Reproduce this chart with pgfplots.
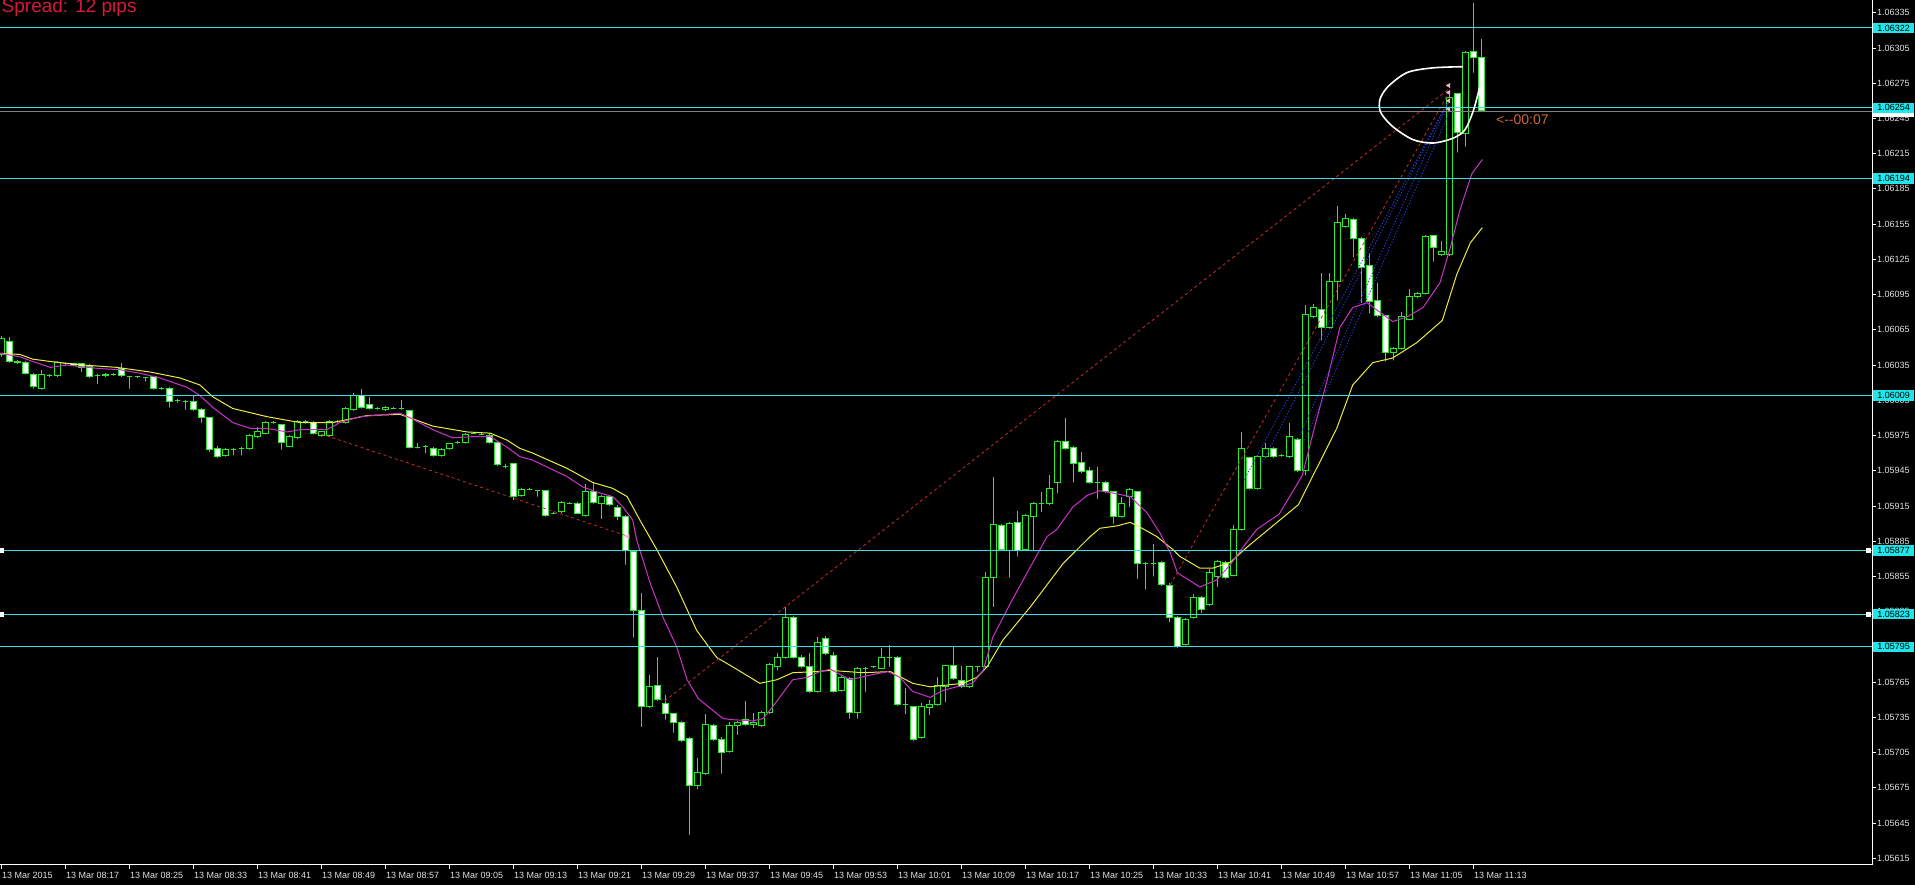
\documentclass[border=0pt]{standalone}
\usepackage{fontspec}
\setmainfont{Liberation Sans}
\usepackage{pgfplots}
\usepackage{pgfplotstable}
\pgfplotsset{compat=1.18}

\definecolor{cgreen}{RGB}{45,230,45}
\definecolor{cyell}{RGB}{235,235,70}
\definecolor{cmag}{RGB}{205,50,205}
\definecolor{ccyan}{RGB}{60,220,225}
\definecolor{cbox}{RGB}{30,230,235}
\definecolor{ctick}{RGB}{225,225,225}
\definecolor{cdred}{RGB}{200,45,45}
\definecolor{cdblue}{RGB}{40,60,225}
\definecolor{cpink}{RGB}{250,175,205}
\definecolor{corange}{RGB}{205,105,45}
\definecolor{cspread}{RGB}{215,25,60}

% prices are all 1.0xxxx: keep the digits after "1.0" (exact, no FPU rounding)
\makeatletter
\def\pricetrafo#1{\pgfmathfloatparsenumber{#1}\expandafter\pr@split\pgfmathresult\pr@end}
\def\pr@split1Y1.0#1#2e#3\pr@end{\def\pgfmathresult{#1.#20}}
\makeatother

% one minute bars, EURUSD 13 Mar 2015, bar 0 = 08:09
\pgfplotstableread{
n open high low close
0 1.06044 1.06060 1.06042 1.06058
1 1.06055 1.06059 1.06037 1.06038
2 1.06038 1.06039 1.06036 1.06037
3 1.06037 1.06038 1.06027 1.06028
4 1.06027 1.06028 1.06015 1.06017
5 1.06015 1.06031 1.06014 1.06027
6 1.06026 1.06027 1.06025 1.06026
7 1.06026 1.06038 1.06025 1.06037
8 1.06036 1.06037 1.06034 1.06036
9 1.06036 1.06037 1.06035 1.06035
10 1.06036 1.06037 1.06029 1.06033
11 1.06034 1.06036 1.06024 1.06025
12 1.06026 1.06027 1.06019 1.06026
13 1.06027 1.06028 1.06025 1.06026
14 1.06027 1.06028 1.06026 1.06027
15 1.06032 1.06037 1.06025 1.06026
16 1.06025 1.06026 1.06015 1.06025
17 1.06025 1.06026 1.06024 1.06025
18 1.06024 1.06025 1.06021 1.06024
19 1.06025 1.06025 1.06014 1.06015
20 1.06015 1.06016 1.06014 1.06015
21 1.06015 1.06016 1.05999 1.06004
22 1.06005 1.06006 1.06003 1.06005
23 1.06004 1.06005 1.05997 1.06004
24 1.06004 1.06009 1.05996 1.05997
25 1.05997 1.05998 1.05986 1.05990
26 1.05990 1.05991 1.05961 1.05963
27 1.05964 1.05966 1.05956 1.05957
28 1.05958 1.05964 1.05957 1.05963
29 1.05963 1.05964 1.05958 1.05963
30 1.05964 1.05965 1.05958 1.05964
31 1.05964 1.05976 1.05963 1.05975
32 1.05974 1.05982 1.05973 1.05978
33 1.05977 1.05987 1.05976 1.05986
34 1.05986 1.05987 1.05985 1.05986
35 1.05984 1.05985 1.05963 1.05969
36 1.05966 1.05975 1.05965 1.05974
37 1.05973 1.05988 1.05972 1.05987
38 1.05987 1.05988 1.05985 1.05987
39 1.05986 1.05987 1.05976 1.05977
40 1.05975 1.05979 1.05974 1.05978
41 1.05975 1.05988 1.05974 1.05987
42 1.05987 1.05988 1.05986 1.05987
43 1.05986 1.05999 1.05985 1.05998
44 1.05997 1.06011 1.05996 1.06009
45 1.06009 1.06015 1.05998 1.05999
46 1.06001 1.06008 1.05997 1.05998
47 1.05998 1.05999 1.05997 1.05998
48 1.05997 1.06000 1.05996 1.05999
49 1.05998 1.05999 1.05998 1.05998
50 1.05998 1.06005 1.05997 1.05998
51 1.05996 1.05997 1.05964 1.05965
52 1.05965 1.05969 1.05964 1.05965
53 1.05966 1.05967 1.05960 1.05966
54 1.05964 1.05965 1.05957 1.05958
55 1.05958 1.05964 1.05957 1.05963
56 1.05964 1.05969 1.05963 1.05968
57 1.05969 1.05970 1.05968 1.05969
58 1.05969 1.05977 1.05968 1.05976
59 1.05977 1.05978 1.05977 1.05977
60 1.05976 1.05977 1.05976 1.05976
61 1.05975 1.05977 1.05968 1.05969
62 1.05969 1.05970 1.05949 1.05950
63 1.05949 1.05951 1.05947 1.05949
64 1.05951 1.05951 1.05920 1.05923
65 1.05924 1.05930 1.05923 1.05929
66 1.05929 1.05930 1.05929 1.05929
67 1.05928 1.05928 1.05923 1.05928
68 1.05928 1.05929 1.05906 1.05907
69 1.05909 1.05910 1.05909 1.05909
70 1.05910 1.05919 1.05909 1.05918
71 1.05917 1.05918 1.05917 1.05917
72 1.05917 1.05918 1.05908 1.05909
73 1.05907 1.05934 1.05906 1.05927
74 1.05927 1.05935 1.05917 1.05918
75 1.05917 1.05924 1.05904 1.05923
76 1.05923 1.05924 1.05915 1.05916
77 1.05914 1.05916 1.05903 1.05906
78 1.05906 1.05907 1.05865 1.05877
79 1.05876 1.05877 1.05803 1.05826
80 1.05826 1.05841 1.05727 1.05744
81 1.05744 1.05771 1.05743 1.05761
82 1.05762 1.05786 1.05749 1.05750
83 1.05747 1.05754 1.05733 1.05738
84 1.05738 1.05739 1.05722 1.05731
85 1.05731 1.05732 1.05714 1.05715
86 1.05717 1.05718 1.05635 1.05677
87 1.05677 1.05700 1.05674 1.05688
88 1.05687 1.05738 1.05686 1.05729
89 1.05728 1.05729 1.05715 1.05716
90 1.05716 1.05718 1.05687 1.05705
91 1.05706 1.05731 1.05705 1.05728
92 1.05728 1.05732 1.05720 1.05731
93 1.05733 1.05749 1.05728 1.05729
94 1.05729 1.05739 1.05726 1.05731
95 1.05728 1.05740 1.05727 1.05739
96 1.05739 1.05781 1.05738 1.05780
97 1.05778 1.05790 1.05775 1.05786
98 1.05786 1.05829 1.05785 1.05820
99 1.05820 1.05821 1.05785 1.05786
100 1.05786 1.05788 1.05777 1.05778
101 1.05778 1.05790 1.05756 1.05757
102 1.05757 1.05803 1.05756 1.05799
103 1.05802 1.05804 1.05788 1.05789
104 1.05788 1.05791 1.05756 1.05757
105 1.05758 1.05770 1.05757 1.05769
106 1.05768 1.05769 1.05734 1.05739
107 1.05739 1.05778 1.05734 1.05777
108 1.05777 1.05778 1.05757 1.05777
109 1.05778 1.05779 1.05777 1.05778
110 1.05777 1.05794 1.05776 1.05786
111 1.05786 1.05797 1.05778 1.05786
112 1.05786 1.05787 1.05745 1.05746
113 1.05746 1.05760 1.05738 1.05746
114 1.05744 1.05745 1.05715 1.05716
115 1.05718 1.05747 1.05717 1.05744
116 1.05743 1.05750 1.05737 1.05746
117 1.05746 1.05769 1.05745 1.05762
118 1.05761 1.05780 1.05748 1.05779
119 1.05779 1.05795 1.05767 1.05768
120 1.05766 1.05779 1.05760 1.05761
121 1.05761 1.05779 1.05760 1.05778
122 1.05778 1.05779 1.05774 1.05778
123 1.05778 1.05859 1.05777 1.05854
124 1.05854 1.05940 1.05829 1.05899
125 1.05898 1.05900 1.05877 1.05878
126 1.05877 1.05901 1.05854 1.05900
127 1.05901 1.05911 1.05872 1.05877
128 1.05878 1.05908 1.05877 1.05907
129 1.05906 1.05918 1.05877 1.05917
130 1.05917 1.05927 1.05910 1.05917
131 1.05917 1.05941 1.05916 1.05930
132 1.05935 1.05971 1.05926 1.05970
133 1.05970 1.05990 1.05963 1.05964
134 1.05965 1.05966 1.05935 1.05951
135 1.05952 1.05961 1.05943 1.05944
136 1.05945 1.05948 1.05934 1.05935
137 1.05935 1.05948 1.05921 1.05935
138 1.05935 1.05936 1.05926 1.05927
139 1.05927 1.05928 1.05900 1.05906
140 1.05906 1.05923 1.05905 1.05917
141 1.05923 1.05930 1.05914 1.05929
142 1.05927 1.05928 1.05853 1.05866
143 1.05866 1.05867 1.05844 1.05866
144 1.05866 1.05883 1.05855 1.05866
145 1.05867 1.05868 1.05847 1.05848
146 1.05847 1.05849 1.05816 1.05820
147 1.05820 1.05821 1.05794 1.05795
148 1.05797 1.05820 1.05796 1.05818
149 1.05820 1.05840 1.05819 1.05837
150 1.05837 1.05838 1.05824 1.05827
151 1.05831 1.05861 1.05830 1.05858
152 1.05855 1.05869 1.05846 1.05868
153 1.05867 1.05868 1.05853 1.05854
154 1.05856 1.05899 1.05855 1.05895
155 1.05895 1.05978 1.05894 1.05964
156 1.05956 1.05957 1.05929 1.05930
157 1.05930 1.05958 1.05929 1.05957
158 1.05957 1.05969 1.05956 1.05964
159 1.05964 1.05965 1.05956 1.05957
160 1.05958 1.05959 1.05957 1.05958
161 1.05957 1.05986 1.05956 1.05974
162 1.05972 1.05973 1.05944 1.05945
163 1.05945 1.06086 1.05941 1.06078
164 1.06076 1.06087 1.06075 1.06084
165 1.06082 1.06113 1.06056 1.06067
166 1.06067 1.06113 1.06066 1.06106
167 1.06106 1.06170 1.06090 1.06156
168 1.06153 1.06164 1.06152 1.06160
169 1.06159 1.06160 1.06127 1.06143
170 1.06143 1.06144 1.06088 1.06118
171 1.06120 1.06130 1.06079 1.06089
172 1.06090 1.06105 1.06076 1.06077
173 1.06077 1.06078 1.06038 1.06046
174 1.06046 1.06050 1.06039 1.06049
175 1.06049 1.06080 1.06048 1.06076
176 1.06074 1.06100 1.06073 1.06093
177 1.06093 1.06097 1.06092 1.06096
178 1.06096 1.06146 1.06095 1.06144
179 1.06145 1.06146 1.06123 1.06135
180 1.06129 1.06141 1.06128 1.06132
181 1.06129 1.06265 1.06128 1.06263
182 1.06266 1.06267 1.06216 1.06233
183 1.06232 1.06302 1.06221 1.06301
184 1.06302 1.06343 1.06284 1.06297
185 1.06297 1.06313 1.06251 1.06252
}\ohlc

\begin{document}
\begin{tikzpicture}
\fill[black] (0pt,0pt) rectangle (1915pt,885pt);
\begin{axis}[
  at={(0pt,20pt)}, anchor=south west,
  scale only axis, width=1872pt, height=865pt,
  xmin=-0.1875, xmax=233.81,
  ymin=1.056093, ymax=1.063458,
  y coord trafo/.code={\pricetrafo{#1}},
  axis x line=bottom, axis y line=right,
  axis line style={-, draw=white, line width=1pt},
  clip mode=individual,
  tick align=outside, major tick length=4pt,
  tick style={white, line width=0.8pt},
  xtick={0,8,...,184},
  xticklabels={13 Mar 2015, 13 Mar 08:17, 13 Mar 08:25, 13 Mar 08:33, 13 Mar 08:41, 13 Mar 08:49, 13 Mar 08:57, 13 Mar 09:05, 13 Mar 09:13, 13 Mar 09:21, 13 Mar 09:29, 13 Mar 09:37, 13 Mar 09:45, 13 Mar 09:53, 13 Mar 10:01, 13 Mar 10:09, 13 Mar 10:17, 13 Mar 10:25, 13 Mar 10:33, 13 Mar 10:41, 13 Mar 10:49, 13 Mar 10:57, 13 Mar 11:05, 13 Mar 11:13},
  ytick={1.05615,1.05645,1.05675,1.05705,1.05735,1.05765,1.05795,1.05825,1.05855,1.05885,1.05915,1.05945,1.05975,1.06005,1.06035,1.06065,1.06095,1.06125,1.06155,1.06185,1.06215,1.06245,1.06275,1.06305,1.06335},
  yticklabels={1.05615,1.05645,1.05675,1.05705,1.05735,1.05765,1.05795,1.05825,1.05855,1.05885,1.05915,1.05945,1.05975,1.06005,1.06035,1.06065,1.06095,1.06125,1.06155,1.06185,1.06215,1.06245,1.06275,1.06305,1.06335},
  x tick label style={anchor=north west, inner sep=0pt, xshift=0.5pt, yshift=-3pt, text=ctick, font=\fontsize{9}{10}\selectfont},
  y tick label style={anchor=west, inner sep=0pt, xshift=1pt, text=ctick, font=\fontsize{9}{10}\selectfont},
]
% candles: wick + body in one path, white body = down bar, black body = up bar
\pgfplotsinvokeforeach{0,...,185}{%
  \pgfplotstablegetelem{#1}{open}\of\ohlc \let\co\pgfplotsretval
  \pgfplotstablegetelem{#1}{high}\of\ohlc \let\ch\pgfplotsretval
  \pgfplotstablegetelem{#1}{low}\of\ohlc \let\cl\pgfplotsretval
  \pgfplotstablegetelem{#1}{close}\of\ohlc \let\cc\pgfplotsretval
  \pgfmathsetmacro\xl{#1-0.32}\pgfmathsetmacro\xr{#1+0.32}%
  \ifdim\co pt<\cc pt \def\bc{black}\let\tp\cc \let\bt\co
  \else \def\bc{white}\let\tp\co \let\bt\cc \fi
  \edef\next{\noexpand\addplot[draw=cgreen, fill=\bc, line width=1pt] coordinates {(#1,\ch) (#1,\tp) (\xl,\tp) (\xl,\bt) (#1,\bt) (#1,\cl) (#1,\bt) (\xr,\bt) (\xr,\tp) (#1,\tp)};}%
  \next
}

% moving averages
\addplot[cyell, line width=1pt] coordinates {(-0.2,1.06045) (2.3,1.06044) (3.9,1.06040) (6.1,1.06038) (10.2,1.06035) (14.4,1.06033) (18.6,1.06029) (22.3,1.06024) (24.8,1.06018) (26.4,1.06008) (28.9,1.05998) (33.2,1.05991) (37.3,1.05986) (41.4,1.05986) (43.6,1.05989) (45.7,1.05992) (49.8,1.05993) (51.9,1.05988) (53.9,1.05983) (58.2,1.05978) (61.1,1.05977) (63.2,1.05971) (64.8,1.05964) (66.4,1.05960) (70.7,1.05947) (73.9,1.05935) (76.4,1.05930) (78.2,1.05923) (79.8,1.05903) (81.9,1.05878) (84.4,1.05846) (86.9,1.05809) (89.4,1.05786) (91.4,1.05778) (94.8,1.05764) (96.9,1.05767) (98.9,1.05773) (101.9,1.05774) (103.6,1.05775) (107.7,1.05773) (111.1,1.05774) (113.9,1.05764) (116.1,1.05761) (120.2,1.05764) (121.9,1.05769) (123.2,1.05778) (125.2,1.05801) (128.6,1.05829) (132.7,1.05866) (136.1,1.05889) (137.3,1.05896) (139.4,1.05898) (141.1,1.05901) (142.3,1.05897) (144.4,1.05889) (146.4,1.05878) (147.3,1.05872) (149.8,1.05862) (151.4,1.05862) (153.6,1.05867) (155.7,1.05880) (157.3,1.05889) (162.1,1.05916) (166.9,1.05981) (168.9,1.06018) (171.4,1.06037) (173.9,1.06041) (176.9,1.06054) (180.1,1.06073) (181.9,1.06112) (183.6,1.06139) (185.1,1.06152)};
\addplot[cmag, line width=1pt] coordinates {(-0.2,1.06045) (2.3,1.06042) (3.9,1.06038) (6.1,1.06033) (8.2,1.06035) (10.7,1.06033) (12.3,1.06032) (14.8,1.06031) (17.3,1.06028) (19.8,1.06024) (23.2,1.06016) (24.8,1.06009) (26.4,1.05999) (28.9,1.05986) (31.1,1.05981) (33.2,1.05981) (35.7,1.05978) (37.3,1.05980) (40.7,1.05980) (42.3,1.05986) (44.8,1.05991) (48.2,1.05993) (49.8,1.05994) (51.1,1.05990) (53.9,1.05980) (56.4,1.05973) (58.9,1.05974) (61.1,1.05974) (63.2,1.05965) (64.8,1.05957) (66.4,1.05954) (70.7,1.05940) (72.7,1.05931) (74.8,1.05926) (76.4,1.05923) (77.7,1.05914) (78.9,1.05903) (79.4,1.05886) (81.1,1.05849) (82.7,1.05820) (84.4,1.05795) (85.7,1.05767) (87.1,1.05751) (88.9,1.05741) (90.2,1.05734) (91.4,1.05733) (93.9,1.05732) (95.2,1.05734) (96.4,1.05744) (97.7,1.05756) (98.9,1.05767) (100.7,1.05769) (102.3,1.05774) (103.6,1.05776) (106.1,1.05767) (108.6,1.05771) (110.8,1.05774) (112.3,1.05769) (113.9,1.05757) (116.1,1.05752) (117.7,1.05758) (119.4,1.05761) (121.4,1.05764) (122.7,1.05775) (123.9,1.05803) (126.1,1.05832) (128.6,1.05863) (130.7,1.05889) (131.9,1.05895) (133.9,1.05914) (135.7,1.05924) (137.3,1.05928) (138.9,1.05926) (141.1,1.05923) (143.2,1.05909) (144.8,1.05892) (146.1,1.05875) (147.0,1.05858) (149.8,1.05846) (151.9,1.05852) (153.6,1.05865) (155.2,1.05880) (156.9,1.05895) (159.7,1.05908) (162.6,1.05941) (164.2,1.05984) (165.7,1.06022) (167.3,1.06067) (168.9,1.06084) (170.7,1.06088) (172.3,1.06080) (173.9,1.06072) (175.7,1.06076) (177.7,1.06084) (179.8,1.06105) (181.1,1.06135) (182.3,1.06167) (183.8,1.06198) (185.1,1.06210)};

% trade lines from the history
\addplot[cdred, line width=0.8pt, dash pattern=on 3pt off 3pt] coordinates {(39.2,1.05978) (78.4,1.05889)};
\addplot[cdred, line width=0.8pt, dash pattern=on 3pt off 3pt] coordinates {(82.9,1.05749) (181.1,1.06271)};
\addplot[cdred, line width=0.8pt, dash pattern=on 3pt off 3pt] coordinates {(146.1,1.05848) (181.1,1.06269)};
\addplot[cdblue, line width=0.9pt, dash pattern=on 1.2pt off 1.8pt] coordinates {(155.3,1.05937) (180.4,1.06254)};
\addplot[cdblue, line width=0.9pt, dash pattern=on 1.2pt off 1.8pt] coordinates {(157.6,1.05952) (180.7,1.06257)};
\addplot[cdblue, line width=0.9pt, dash pattern=on 1.2pt off 1.8pt] coordinates {(162.3,1.05975) (180.9,1.06259)};
\addplot[cdblue, line width=0.9pt, dash pattern=on 1.2pt off 1.8pt] coordinates {(162.9,1.05971) (181.1,1.06252)};
\addplot[only marks, mark=triangle*, mark size=2.5pt, color=cpink, mark options={rotate=90}] coordinates {(180.9,1.06273) (180.9,1.06267) (180.9,1.06260) (180.9,1.06253) (78.3,1.05889)};

% bid line and horizontal levels
\addplot[gray, line width=0.8pt] coordinates {(-0.1875,1.06251) (233.81,1.06251)};
\pgfplotsinvokeforeach{1.06322,1.06254,1.06194,1.06009,1.05877,1.05823,1.05795}{%
  \addplot[ccyan, line width=1pt] coordinates {(-0.1875,#1) (233.81,#1)};
}
\coordinate (La) at (axis cs:233.81,1.06322);
\coordinate (Lb) at (axis cs:233.81,1.06254);
\coordinate (Lc) at (axis cs:233.81,1.06194);
\coordinate (Ld) at (axis cs:233.81,1.06009);
\coordinate (Le) at (axis cs:233.81,1.05877);
\coordinate (Lf) at (axis cs:233.81,1.05823);
\coordinate (Lg) at (axis cs:233.81,1.05795);
\coordinate (Lbid) at (axis cs:233.81,1.06251);
\addplot[only marks, mark=square*, mark size=2pt, white] coordinates {(233.3,1.05877) (233.3,1.05823) (0,1.05877) (0,1.05823)};

% hand-drawn loop around the entry
\addplot[white, line width=1.6pt, smooth] coordinates {(185.2,1.06296) (185.1,1.06284) (184.6,1.06267) (183.9,1.06250) (182.9,1.06235) (181.4,1.06228) (178.9,1.06224) (176.4,1.06227) (173.9,1.06238) (172.4,1.06250) (172.3,1.06261) (173.3,1.06272) (175.7,1.06284) (178.9,1.06288) (182.7,1.06289)};

\node[anchor=west, inner sep=0pt, text=corange, font=\fontsize{14}{14}\selectfont] at (axis cs:186.8,1.06244) {<{-}{-}00:07};
\end{axis}

% price labels of the levels, over the scale
\tikzset{lvbox/.style={fill=cbox, text=black, anchor=west, minimum width=41pt, minimum height=10.5pt, inner sep=0pt, xshift=1pt, font=\fontsize{9}{10}\selectfont}}
\node[fill=white, anchor=west, minimum width=41pt, minimum height=10.5pt, inner sep=0pt, xshift=1pt] at (Lbid) {};
\node[lvbox] at (La) {1.06322};
\node[lvbox] at (Lb) {1.06254};
\node[lvbox] at (Lc) {1.06194};
\node[lvbox] at (Ld) {1.06009};
\node[lvbox] at (Le) {1.05877};
\node[lvbox] at (Lf) {1.05823};
\node[lvbox] at (Lg) {1.05795};
\node[anchor=base west, inner sep=0pt, text=cspread, font=\fontsize{19}{19}\selectfont] at (1.5pt,872pt) {Spread: 12 pips};
\pgfresetboundingbox
\useasboundingbox (0pt,0pt) rectangle (1915pt,885pt);
\end{tikzpicture}
\end{document}
